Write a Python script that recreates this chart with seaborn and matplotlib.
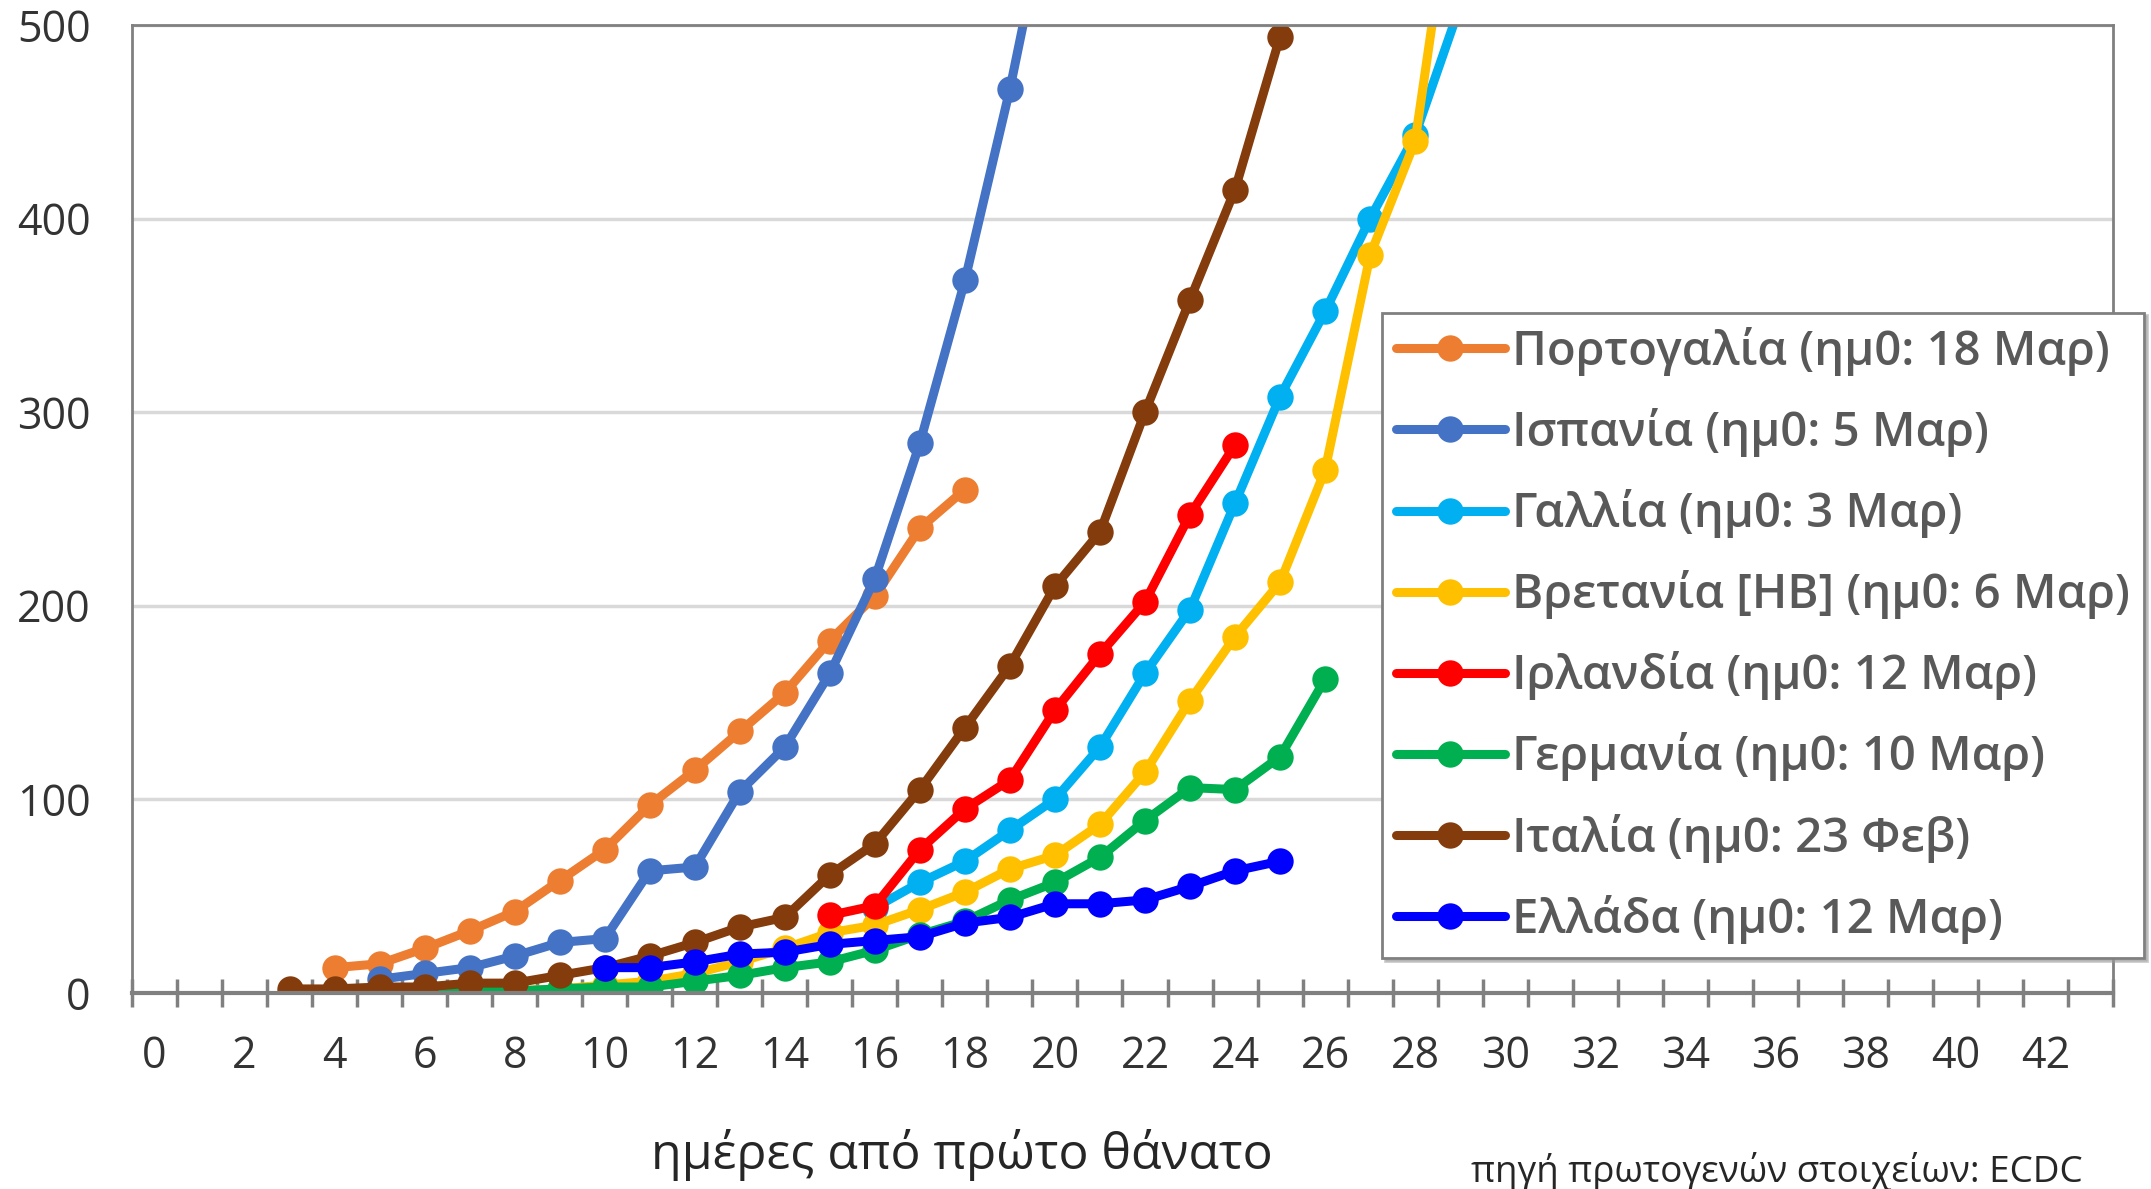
import numpy as np
import pandas as pd
import matplotlib.pyplot as plt
import seaborn as sns

sns.set_style('white')
plt.rcParams['font.family'] = ['Open Sans', 'DejaVu Sans']

# series, in drawing order (first one ends up at the bottom)
labels = ['Πορτογαλία (ημ0: 18 Μαρ)', 'Ισπανία (ημ0: 5 Μαρ)', 'Γαλλία (ημ0: 3 Μαρ)',
          'Βρετανία [HB] (ημ0: 6 Μαρ)', 'Ιρλανδία (ημ0: 12 Μαρ)', 'Γερμανία (ημ0: 10 Μαρ)',
          'Ιταλία (ημ0: 23 Φεβ)', 'Ελλάδα (ημ0: 12 Μαρ)']
colors = ['#ED7D31', '#4472C4', '#00B0F0', '#FFC000', '#FF0000', '#00B050', '#843C0C', '#0000FF']

portugal_days = list(range(4, 19))
portugal = [13, 15, 23, 32, 42, 58, 74, 97, 115, 135, 155, 182, 205, 240, 260]
spain_days = list(range(5, 21))
spain = [7, 10, 13, 19, 26, 28, 63, 65, 104, 127, 165, 214, 284, 368, 467, 580]
france_days = list(range(16, 30))
france = [44, 57, 68, 84, 100, 127, 165, 198, 253, 308, 352, 400, 443, 510]
uk_days = list(range(6, 30))
uk = [0, 1, 1, 2, 4, 6, 10, 16, 23, 31, 35, 43, 52, 64, 71, 87, 114, 151, 184, 212, 270, 381, 440, 600]
ireland_days = list(range(15, 25))
ireland = [40, 45, 74, 95, 110, 146, 175, 202, 247, 283]
germany_days = list(range(6, 27))
germany = [1, 1, 1, 2, 3, 3, 6, 9, 13, 16, 22, 30, 37, 48, 57, 70, 89, 106, 105, 122, 162]
italy_days = list(range(3, 27))
italy = [2, 2, 3, 3, 5, 5, 9, 13, 19, 26, 34, 39, 61, 77, 105, 137, 169, 210, 238, 300, 358, 415, 494, 620]
greece_days = list(range(10, 26))
greece = [13, 13, 16, 20, 21, 25, 27, 29, 36, 39, 46, 46, 48, 55, 63, 68]

series = [(portugal_days, portugal), (spain_days, spain), (france_days, france), (uk_days, uk),
          (ireland_days, ireland), (germany_days, germany), (italy_days, italy), (greece_days, greece)]
df = pd.concat([pd.DataFrame({'day': d, 'deaths': v, 'country': lab})
                for lab, (d, v) in zip(labels, series)], ignore_index=True)

fig = plt.figure(figsize=(21.51, 11.89), dpi=100)
ax = fig.add_axes([0.0614, 0.165, 0.9209, 0.814])

sns.lineplot(data=df, x='day', y='deaths', hue='country', hue_order=labels, palette=colors,
             estimator=None, sort=False, marker='o', markersize=19, linewidth=6.5,
             markeredgewidth=0, ax=ax)

ax.set_xlim(-0.5, 43.5)
ax.set_ylim(0, 500)
ax.set_xticks(range(0, 43, 2))
ax.set_xticks(np.arange(-0.5, 44, 1), minor=True)
ax.set_yticks(range(0, 501, 100))
ax.tick_params(axis='x', which='major', length=0, pad=30, labelsize=31, labelcolor='#333333')
ax.tick_params(axis='x', which='minor', bottom=True, direction='inout', length=20, width=2.5,
               color='#808080')
ax.tick_params(axis='y', length=0, pad=30, labelsize=31, labelcolor='#333333')
ax.yaxis.grid(True, color='#d9d9d9', linewidth=2.5)
ax.set_axisbelow(True)
for side in ['left', 'top', 'right', 'bottom']:
    ax.spines[side].set_color('#808080')
    ax.spines[side].set_linewidth(2)
ax.spines['bottom'].set_linewidth(3)
ax.set_xlabel('')
ax.set_ylabel('')

sns.move_legend(ax, loc='upper left', bbox_to_anchor=(0.6425, 0.737), bbox_transform=fig.transFigure,
                title=None, prop={'size': 34, 'weight': 'semibold'}, labelcolor='#595959',
                frameon=True, fancybox=False, edgecolor='#808080', framealpha=1, borderpad=0.3,
                labelspacing=0.68, handlelength=2.3, handletextpad=0.15, borderaxespad=0,
                shadow={'color': '0.6', 'alpha': 0.5})
ax.get_legend().get_frame().set_linewidth(2)

fig.text(0.447, 0.029, 'ημέρες από πρώτο θάνατο', ha='center', va='center', fontsize=36, color='#262626')
fig.text(0.684, 0.015, 'πηγή πρωτογενών στοιχείων: ECDC', ha='left', va='center', fontsize=26.5,
         color='#262626')

fig.savefig('out.png', dpi=100, facecolor='white')
